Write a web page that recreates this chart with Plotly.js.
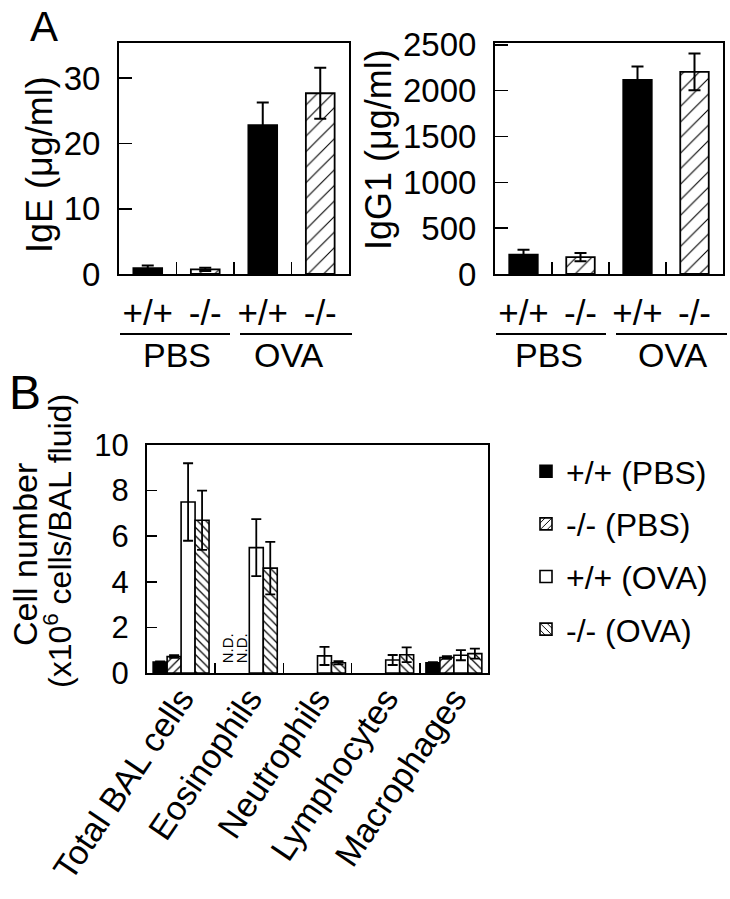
<!DOCTYPE html>
<html>
<head>
<meta charset="utf-8">
<script src="https://cdn.plot.ly/plotly-3.0.1.min.js"></script>
<style>html,body{margin:0;padding:0;background:#fff;}#chart{width:730px;height:899px;}</style>
</head>
<body>
<div id="chart"></div>
<script>
// ---------- Panel A data ----------
const groupsA = ["PBS +/+", "PBS -/-", "OVA +/+", "OVA -/-"];
const genotypeLabelsA = ["+/+", "-/-", "+/+", "-/-"];
const wtGroupsA = ["PBS +/+", "OVA +/+"];
const koGroupsA = ["PBS -/-", "OVA -/-"];
const igeWT = [0.9, 22.8];
const igeWTErr = [0.4, 3.5];
const igeKO = [0.7, 27.7];
const igeKOErr = [0.25, 3.9];
const igg1WT = [210, 2118];
const igg1WTErr = [55, 145];
const igg1KO = [185, 2205];
const igg1KOErr = [45, 200];
const treatmentLabels = ["PBS", "OVA"];

// ---------- Panel B data ----------
const cellTypes = ["Total BAL cells", "Eosinophils", "Neutrophils", "Lymphocytes", "Macrophages"];
const seriesNames = ["+/+ (PBS)", "-/- (PBS)", "+/+ (OVA)", "-/- (OVA)"];
const wtPBS = [0.48, null, null, null, 0.45];
const wtPBSErr = [0.03, null, null, null, 0.03];
const koPBS = [0.72, null, null, null, 0.68];
const koPBSErr = [0.06, null, null, null, 0.06];
const wtOVA = [7.5, 5.5, 0.75, 0.57, 0.78];
const wtOVAErr = [1.7, 1.25, 0.4, 0.22, 0.22];
const koOVA = [6.7, 4.6, 0.45, 0.8, 0.85];
const koOVAErr = [1.3, 1.15, 0.07, 0.32, 0.22];
const ndLabel = "N.D.";

const FONT = "Liberation Sans, Arial, Helvetica, sans-serif";
const BLACK = "#000";

function barA(x, y, err, xa, ya, hatched){
  return {
    type: "bar", x: x, y: y, width: 0.5, offset: -0.25, xaxis: xa, yaxis: ya, showlegend: false,
    marker: hatched
      ? {color: "#fff", line: {color: BLACK, width: 1.8},
         pattern: {shape: "/", fgcolor: BLACK, bgcolor: "#fff", size: 11, solidity: 0.1}}
      : {color: BLACK, line: {color: BLACK, width: 1.8}},
    error_y: {type: "data", array: err, visible: true, color: BLACK, thickness: 2, width: 6}
  };
}

const traces = [
  barA(wtGroupsA, igeWT, igeWTErr, "x", "y", false),
  barA(koGroupsA, igeKO, igeKOErr, "x", "y", true),
  barA(wtGroupsA, igg1WT, igg1WTErr, "x2", "y2", false),
  barA(koGroupsA, igg1KO, igg1KOErr, "x2", "y2", true)
];

const bStyles = [
  {color: "#000", shape: ""},
  {color: "#fff", shape: "/"},
  {color: "#fff", shape: ""},
  {color: "#fff", shape: "\\"}
];
const bVals = [wtPBS, koPBS, wtOVA, koOVA];
const bErrs = [wtPBSErr, koPBSErr, wtOVAErr, koOVAErr];
for (let i = 0; i < 4; i++) {
  const m = {color: bStyles[i].color, line: {color: BLACK, width: 1.6}};
  if (bStyles[i].shape) m.pattern = {shape: bStyles[i].shape, fgcolor: BLACK, bgcolor: "#fff", size: 6, solidity: 0.2};
  traces.push({
    type: "bar", name: seriesNames[i], x: cellTypes, y: bVals[i], xaxis: "x3", yaxis: "y3",
    legendgroup: "g" + i, marker: m,
    error_y: {type: "data", array: bErrs[i], visible: true, color: BLACK, thickness: 1.8, width: 5}
  });
}

const W = 730, H = 899;
const px = v => v / W;
const py = v => 1 - v / H;

const axisCommon = {
  showline: true, linecolor: BLACK, linewidth: 2, mirror: true,
  showgrid: false, zeroline: false, ticks: "inside", tickcolor: BLACK, tickwidth: 1.5,
  fixedrange: true
};

const layout = {
  width: W, height: H,
  margin: {l: 0, r: 0, t: 0, b: 0},
  paper_bgcolor: "#fff", plot_bgcolor: "#fff",
  font: {family: FONT, color: BLACK, size: 30},
  barmode: "group", bargap: 0.18, bargroupgap: 0,
  showlegend: true,
  legend: {x: px(526), y: py(444), xanchor: "left", yanchor: "top",
           font: {family: FONT, size: 32, color: BLACK}, tracegroupgap: 8,
           bgcolor: "rgba(0,0,0,0)", itemclick: false},
  xaxis: Object.assign({}, axisCommon, {domain: [px(119), px(349)], anchor: "y",
    type: "category", range: [-0.5, 3.5], tickson: "boundaries", ticklen: 12,
    categoryorder: "array", categoryarray: groupsA, tickangle: 0,
    tickvals: groupsA, ticktext: genotypeLabelsA, ticklabelstandoff: 7,
    tickfont: {family: FONT, size: 35}}),
  yaxis: Object.assign({}, axisCommon, {domain: [py(274), py(43)], anchor: "x",
    range: [0, 35.4], tickvals: [0, 10, 20, 30], ticklen: 13, ticklabelstandoff: 10,
    tickfont: {family: FONT, size: 33}}),
  xaxis2: Object.assign({}, axisCommon, {domain: [px(495), px(723)], anchor: "y2",
    type: "category", range: [-0.5, 3.5], tickson: "boundaries", ticklen: 12,
    categoryorder: "array", categoryarray: groupsA, tickangle: 0,
    tickvals: groupsA, ticktext: genotypeLabelsA, ticklabelstandoff: 7,
    tickfont: {family: FONT, size: 35}}),
  yaxis2: Object.assign({}, axisCommon, {domain: [py(274), py(43)], anchor: "x2",
    range: [0, 2520], tickvals: [0, 500, 1000, 1500, 2000, 2500], ticklen: 13, ticklabelstandoff: 10,
    tickfont: {family: FONT, size: 33}}),
  xaxis3: Object.assign({}, axisCommon, {domain: [px(147), px(488)], anchor: "y3",
    type: "category", range: [-0.5, 4.5], tickson: "boundaries", ticklen: 10,
    tickangle: -56, ticklabelstandoff: -10,
    tickfont: {family: FONT, size: 34}}),
  yaxis3: Object.assign({}, axisCommon, {domain: [py(673), py(445)], anchor: "x3",
    range: [0, 10], dtick: 2, ticklen: 10, ticklabelstandoff: 10,
    tickfont: {family: FONT, size: 31}}),
  shapes: [
    {type: "line", xref: "paper", yref: "paper", x0: px(120), x1: px(230), y0: py(334), y1: py(334), line: {color: BLACK, width: 2}},
    {type: "line", xref: "paper", yref: "paper", x0: px(240), x1: px(352), y0: py(334), y1: py(334), line: {color: BLACK, width: 2}},
    {type: "line", xref: "paper", yref: "paper", x0: px(496), x1: px(606), y0: py(334), y1: py(334), line: {color: BLACK, width: 2}},
    {type: "line", xref: "paper", yref: "paper", x0: px(616), x1: px(727), y0: py(334), y1: py(334), line: {color: BLACK, width: 2}}
  ],
  annotations: [
    {text: "A", xref: "paper", yref: "paper", x: px(44), y: py(27), showarrow: false, font: {family: FONT, size: 42}, xanchor: "center", yanchor: "middle"},
    {text: "B", xref: "paper", yref: "paper", x: px(25), y: py(392), showarrow: false, font: {family: FONT, size: 48}, xanchor: "center", yanchor: "middle"},
    {text: "IgE (μg/ml)", textangle: -90, xref: "paper", yref: "paper", x: px(40), y: py(165), showarrow: false, font: {family: FONT, size: 36}, xanchor: "center", yanchor: "middle"},
    {text: "IgG1 (μg/ml)", textangle: -90, xref: "paper", yref: "paper", x: px(378), y: py(150), showarrow: false, font: {family: FONT, size: 36}, xanchor: "center", yanchor: "middle"},
    {text: "Cell number", textangle: -90, xref: "paper", yref: "paper", x: px(25), y: py(555), showarrow: false, font: {family: FONT, size: 34}, xanchor: "center", yanchor: "middle"},
    {text: "(x10<sup>6</sup> cells/BAL fluid)", textangle: -90, xref: "paper", yref: "paper", x: px(58), y: py(541), showarrow: false, font: {family: FONT, size: 32}, xanchor: "center", yanchor: "middle"},
    {text: treatmentLabels[0], xref: "paper", yref: "paper", x: px(177), y: py(355), showarrow: false, font: {family: FONT, size: 34}, xanchor: "center", yanchor: "middle"},
    {text: treatmentLabels[1], xref: "paper", yref: "paper", x: px(289), y: py(355), showarrow: false, font: {family: FONT, size: 34}, xanchor: "center", yanchor: "middle"},
    {text: treatmentLabels[0], xref: "paper", yref: "paper", x: px(549), y: py(355), showarrow: false, font: {family: FONT, size: 34}, xanchor: "center", yanchor: "middle"},
    {text: treatmentLabels[1], xref: "paper", yref: "paper", x: px(673), y: py(355), showarrow: false, font: {family: FONT, size: 34}, xanchor: "center", yanchor: "middle"},
    {text: ndLabel, textangle: -90, xref: "x3", yref: "y3", x: cellTypes[1], y: 1.1, xshift: -21, showarrow: false, font: {family: FONT, size: 15}, xanchor: "center", yanchor: "middle"},
    {text: ndLabel, textangle: -90, xref: "x3", yref: "y3", x: cellTypes[1], y: 1.1, xshift: -7, showarrow: false, font: {family: FONT, size: 15}, xanchor: "center", yanchor: "middle"}
  ]
};

Plotly.newPlot("chart", traces, layout, {staticPlot: true, displayModeBar: false});
</script>
</body>
</html>
